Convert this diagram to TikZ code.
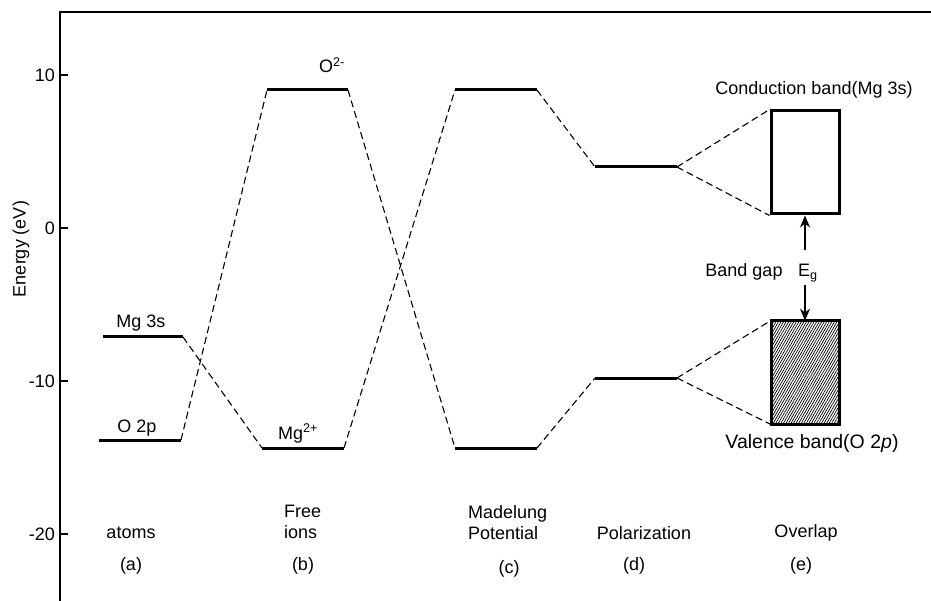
\documentclass[tikz,border=0pt]{standalone}
\usepackage{fontspec}
\setmainfont{Liberation Sans}
\usetikzlibrary{arrows.meta,patterns.meta}
\tikzset{
  lbl/.style={font=\fontsize{18}{21}\selectfont, inner sep=0pt},
  level/.style={line width=3pt},
  link/.style={line width=1.1pt, dash pattern=on 7pt off 4pt},
  band/.style={draw, line width=3pt, minimum width=68pt, minimum height=103pt, inner sep=0pt},
  gaparrow/.style={line width=1.2pt, -{Stealth[length=12pt,width=10pt]}}
}
\begin{document}
\begin{tikzpicture}[x=1pt,y=-1pt]
\useasboundingbox (0,0) rectangle (931,601);
% axis and ticks
\draw[line width=1.3pt] (931,12) -- (60,12) -- (60,601);
\foreach \v/\y in {10/75,0/228,-10/381,-20/534} {
  \draw[line width=1.3pt] (60,\y) -- (68,\y);
  \node[lbl,anchor=east] (tick\v) at (55,\y) {\v};
}
\node[lbl,rotate=90] (ylabel) at (21,249) {Energy (eV)};

% energy levels
\coordinate (mgL) at (103,337);   \coordinate (mgR) at (183,337);
\coordinate (opL) at (99,440);    \coordinate (opR) at (181,440);
\coordinate (oiL) at (267,90);    \coordinate (oiR) at (348,90);
\coordinate (miL) at (262,448);   \coordinate (miR) at (344,448);
\coordinate (madTL) at (455,90);  \coordinate (madTR) at (537,90);
\coordinate (madBL) at (455,448); \coordinate (madBR) at (537,448);
\coordinate (polTL) at (595,167); \coordinate (polTR) at (677,167);
\coordinate (polBL) at (595,378); \coordinate (polBR) at (677,378);
\foreach \a/\b in {mgL/mgR,opL/opR,oiL/oiR,miL/miR,madTL/madTR,madBL/madBR,polTL/polTR,polBL/polBR}
  \draw[level] (\a) -- (\b);

% bands
\node[band] (cb) at (805,162.5) {};
\node[band, pattern={Lines[angle=60,distance=2.2pt,line width=0.7pt]}] (vb) at (805,372.5) {};

% dashed correlation lines
\foreach \a/\b in {mgR/miL,opR/oiL,oiR/madBL,miR/madTL,madTR/polTL,madBR/polBL,polTR/cb.north west,polTR/cb.south west,polBR/vb.north west,polBR/vb.south west}
  \draw[link] (\a) -- (\b);

% level labels
\node[lbl,anchor=base] (mglbl) at (141,327) {Mg 3s};
\node[lbl,anchor=base] (oplbl) at (137,432) {O 2p};
\node[lbl,anchor=base west] (oilbl) at (319,73) {O\textsuperscript{2-}};
\node[lbl,anchor=base west] (milbl) at (278,439) {Mg\textsuperscript{2+}};
\node[lbl,anchor=base] (cblbl) at (814,95) {Conduction band(Mg 3s)};
\node[lbl,anchor=base,font=\fontsize{19.5}{22}\selectfont] (vblbl) at (812,448) {Valence band(O 2\textit{p})};

% band gap
\node[lbl,anchor=base] (gaplbl) at (744,277) {Band gap};
\node[lbl,anchor=base west] (eg) at (798,277) {E\textsubscript{g}};
\coordinate (egtop) at (805,250);
\coordinate (egbot) at (805,285);
\draw[gaparrow] (egtop) -- (cb.south);
\draw[gaparrow] (egbot) -- (vb.north);

% step labels
\node[lbl] (atoms) at (131,533) {atoms};
\node[lbl] (stepa) at (131,566) {(a)};
\node[lbl,align=left,anchor=west] (free) at (284,522) {Free\\ions};
\node[lbl] (stepb) at (303,566) {(b)};
\node[lbl,align=left,anchor=west] (madel) at (468,523) {Madelung\\Potential};
\node[lbl] (stepc) at (509,569) {(c)};
\node[lbl] (polar) at (644,533) {Polarization};
\node[lbl] (stepd) at (634,566) {(d)};
\node[lbl] (overlap) at (806,533) {Overlap};
\node[lbl] (stepe) at (801,566) {(e)};
\end{tikzpicture}
\end{document}
